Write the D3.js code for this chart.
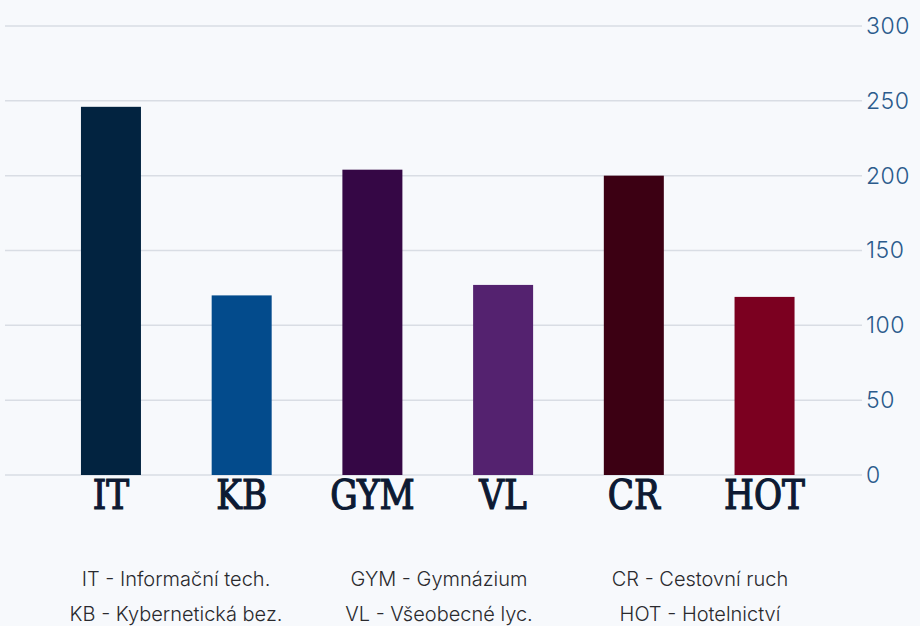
<!DOCTYPE html>
<html>
<head>
<meta charset="utf-8">
<script src="https://cdn.jsdelivr.net/npm/d3@7"></script>
<style>
  html, body { margin: 0; padding: 0; background: #f7f9fc; }
  svg { display: block; }
</style>
</head>
<body>
<svg id="chart" width="920" height="626"></svg>
<script>
// obory a pocty
const codes = ["IT", "KB", "GYM", "VL", "CR", "HOT"];
const counts = [246, 120, 204, 127, 200, 119];
const barColors = ["#022340", "#034b8c", "#350745", "#54226f", "#3c0013", "#7b0020"];
const yTicks = [0, 50, 100, 150, 200, 250, 300];
const legendRows = [
  ["IT - Informační tech.", "GYM - Gymnázium", "CR - Cestovní ruch"],
  ["KB - Kybernetická bez.", "VL - Všeobecné lyc.", "HOT - Hotelnictví"]
];

const svg = d3.select("#chart");
const margin = {top: 26, bottom: 151, gridLeft: 5, gridRight: 862};
const height = 626;

const y = d3.scaleLinear()
  .domain([0, 300])
  .range([height - margin.bottom, margin.top]);

const x = d3.scaleBand()
  .domain(codes)
  .range([45.6, 829.9])
  .paddingInner(0.541)
  .paddingOuter(0.2705);

// mrizka + osa vpravo
const yAxis = g => g
  .attr("transform", `translate(${margin.gridRight},0)`)
  .call(d3.axisRight(y).tickValues(yTicks).tickSize(0).tickPadding(4))
  .call(g => g.select(".domain").remove())
  .call(g => g.selectAll("text")
    .attr("fill", "#2b5b8c")
    .attr("font-family", "Inter, 'Noto Sans', sans-serif")
    .attr("font-weight", 300)
    .attr("letter-spacing", 0.5)
    .attr("font-size", 23));

svg.append("g")
  .attr("class", "grid")
  .selectAll("line")
  .data(yTicks)
  .join("line")
    .attr("x1", margin.gridLeft)
    .attr("x2", margin.gridRight)
    .attr("y1", d => y(d))
    .attr("y2", d => y(d))
    .attr("stroke", "#d9dde4")
    .attr("stroke-width", 1.5);

svg.append("g").call(yAxis);

// sloupce
svg.append("g")
  .selectAll("rect")
  .data(codes)
  .join("rect")
    .attr("x", d => x(d))
    .attr("y", (d, i) => y(counts[i]))
    .attr("width", x.bandwidth())
    .attr("height", (d, i) => y(0) - y(counts[i]))
    .attr("fill", (d, i) => barColors[i]);

// zkratky pod sloupci (uzsi slab serif)
svg.append("g")
  .selectAll("text")
  .data(codes)
  .join("text")
    .attr("transform", d => `translate(${x(d) + x.bandwidth() / 2},509) scale(0.93,1)`)
    .attr("text-anchor", "middle")
    .attr("font-family", "'DejaVu Serif Condensed', 'DejaVu Serif', serif")
    .attr("font-size", 41)
    .attr("fill", "#0d1a33")
    .attr("stroke", "#0d1a33")
    .attr("stroke-width", 1.2)
    .text(d => d);

// legenda
const legendX = [176, 439, 700];
const legendY = [586, 621];
legendRows.forEach((row, r) => {
  svg.append("g")
    .selectAll("text")
    .data(row)
    .join("text")
      .attr("x", (d, i) => legendX[i])
      .attr("y", legendY[r])
      .attr("text-anchor", "middle")
      .attr("font-family", "Inter, 'Noto Sans', sans-serif")
      .attr("font-weight", 300)
      .attr("font-size", 20)
      .attr("fill", "#2a2a2e")
      .text(d => d);
});
</script>
</body>
</html>
